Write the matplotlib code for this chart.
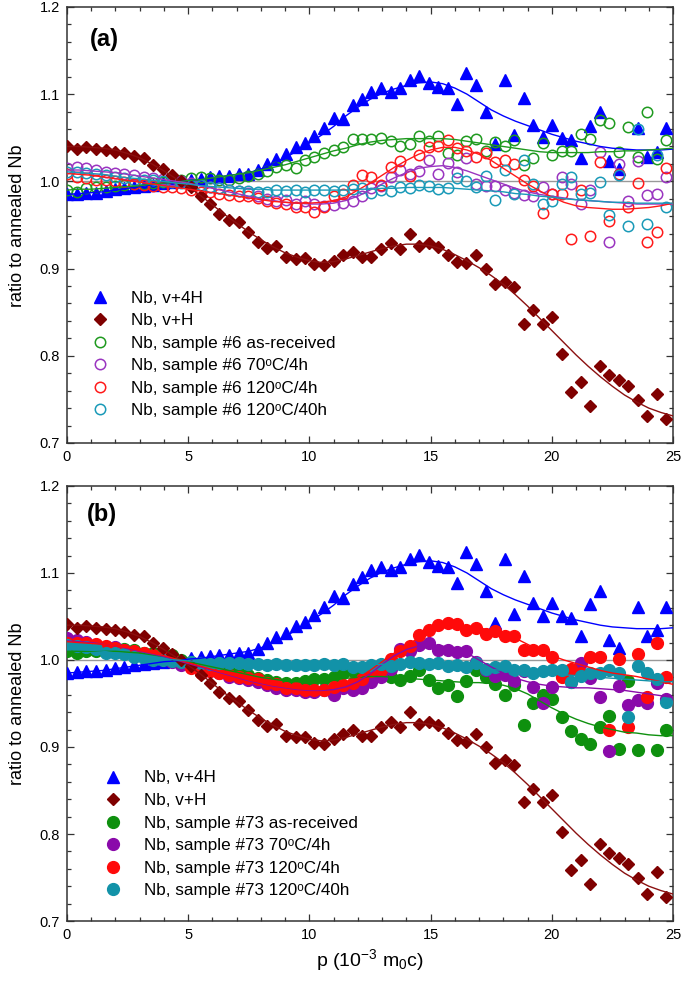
import numpy as np
import matplotlib
matplotlib.use('Agg')
import matplotlib.pyplot as plt
import matplotlib.ticker as ticker

plt.rcParams['font.family'] = ['Liberation Sans', 'DejaVu Sans']
plt.rcParams['mathtext.fontset'] = 'custom'
plt.rcParams['mathtext.rm'] = 'Liberation Sans'
plt.rcParams['mathtext.it'] = 'Liberation Sans:italic'

nan = np.nan

# momentum channels, 10^-3 m0c
p = [0.02, 0.41, 0.80, 1.20, 1.59, 1.98, 2.37, 2.76, 3.16, 3.55,
     3.94, 4.33, 4.72, 5.12, 5.51, 5.90, 6.29, 6.68, 7.08, 7.47,
     7.86, 8.25, 8.64, 9.04, 9.43, 9.82, 10.21, 10.60, 11.00, 11.39,
     11.78, 12.17, 12.56, 12.96, 13.35, 13.74, 14.13, 14.52, 14.92, 15.31,
     15.70, 16.09, 16.48, 16.88, 17.27, 17.66, 18.05, 18.44, 18.84, 19.23,
     19.62, 20.01, 20.40, 20.80, 21.19, 21.58, 21.97, 22.36, 22.76, 23.15,
     23.54, 23.93, 24.32, 24.72]

# reference samples (both panels)
v4h = [0.985, 0.986, 0.987, 0.987, 0.989, 0.991, 0.992, 0.994, 0.995, 0.996,
       0.998, 0.999, 1.000, 1.002, 1.003, 1.005, 1.006, 1.006, 1.008, 1.008,
       1.013, 1.020, 1.026, 1.031, 1.039, 1.044, 1.052, 1.061, 1.073, 1.071,
       1.087, 1.095, 1.103, 1.107, 1.103, 1.107, 1.116, 1.121, 1.113, 1.108,
       1.107, 1.089, 1.124, 1.110, 1.079, 1.043, 1.116, 1.053, 1.096, 1.065,
       1.051, 1.065, 1.050, 1.048, 1.027, 1.064, 1.079, 1.023, 1.014, nan,
       1.061, 1.028, 1.034, 1.061]
vh = [1.041, 1.037, 1.039, 1.037, 1.036, 1.034, 1.032, 1.029, 1.027, 1.019,
      1.014, 1.007, 1.000, 0.993, 0.983, 0.974, 0.963, 0.956, 0.953, 0.942,
      0.931, 0.924, 0.926, 0.913, 0.911, 0.912, 0.905, 0.904, 0.909, 0.915,
      0.919, 0.913, 0.913, 0.923, 0.929, 0.923, 0.940, 0.926, 0.929, 0.925,
      0.916, 0.908, 0.906, 0.915, 0.900, 0.882, 0.885, 0.879, 0.837, 0.852,
      0.837, 0.845, 0.802, 0.759, 0.770, 0.742, 0.788, 0.778, 0.772, 0.765,
      0.749, 0.731, 0.756, 0.728]

# sample #6
s6_asrec = [0.990, 0.988, 0.992, 0.994, 0.994, 0.995, 0.996, 0.997, 0.997, 0.998,
            0.999, 1.000, 1.002, 1.004, 1.005, 1.004, 1.002, 1.002, 1.004, 1.006,
            1.009, 1.012, 1.017, 1.019, 1.015, 1.025, 1.028, 1.032, 1.036, 1.039,
            1.049, 1.049, 1.049, 1.050, 1.046, 1.041, 1.043, 1.052, 1.046, 1.052,
            1.033, 1.030, 1.046, 1.049, 1.035, 1.045, 1.041, 1.048, 1.019, 1.027,
            1.044, 1.030, 1.035, 1.035, 1.054, 1.049, 1.070, 1.067, 1.034, 1.062,
            1.028, 1.079, 1.026, 1.048]
s6_70c4h = [1.015, 1.016, 1.015, 1.013, 1.011, 1.010, 1.008, 1.007, 1.005, 1.004,
            1.003, 1.001, 1.000, 0.998, 0.996, 0.994, 0.992, 0.990, 0.989, 0.987,
            0.983, 0.980, 0.978, 0.979, 0.974, 0.977, 0.974, 0.972, 0.973, 0.975,
            0.977, 0.983, 0.992, 0.995, 1.005, 1.013, 1.009, 1.012, 1.024, 1.009,
            1.021, 1.011, 1.027, 0.997, 0.995, 0.995, 0.990, 0.987, 0.984, 0.983,
            0.993, 0.986, 1.005, 0.997, 0.974, 0.990, 1.034, 0.930, 1.020, 0.977,
            1.023, 0.984, 0.985, 1.005]
s6_120c4h = [1.009, 1.005, 1.004, 1.002, 1.002, 1.000, 0.999, 0.997, 0.996, 0.995,
             0.994, 0.993, 0.992, 0.990, 0.988, 0.988, 0.986, 0.984, 0.983, 0.983,
             0.981, 0.978, 0.975, 0.974, 0.971, 0.971, 0.965, 0.971, 0.983, 0.986,
             0.996, 1.007, 1.005, 0.996, 1.017, 1.023, 1.006, 1.030, 1.039, 1.041,
             1.047, 1.038, 1.035, 1.028, 1.032, 1.022, 1.025, 1.020, 1.002, 0.995,
             0.964, 0.986, 0.985, 0.934, 0.990, 0.937, 1.022, 0.955, 1.009, 0.971,
             0.998, 0.931, 0.942, 1.015]
s6_120c40h = [1.011, 1.011, 1.010, 1.009, 1.007, 1.005, 1.004, 1.002, 1.002, 1.001,
              1.000, 0.999, 0.998, 0.996, 0.996, 0.994, 0.992, 0.990, 0.989, 0.989,
              0.988, 0.988, 0.990, 0.989, 0.990, 0.988, 0.990, 0.990, 0.989, 0.990,
              0.991, 0.992, 0.987, 0.990, 0.989, 0.993, 0.992, 0.996, 0.995, 0.991,
              0.992, 1.004, 1.000, 0.994, 1.006, 0.979, 1.013, 0.986, 1.025, 0.997,
              0.974, 0.978, 0.997, 1.005, 0.986, 0.987, 0.999, 0.961, 1.007, 0.949,
              1.060, 0.951, 1.030, 0.971]

# sample #73
s73_asrec = [1.010, 1.008, 1.010, 1.010, 1.011, 1.012, 1.013, 1.012, 1.008, 1.008,
             1.007, 1.006, 1.000, 0.998, 0.996, 0.993, 0.989, 0.987, 0.985, 0.983,
             0.979, 0.977, 0.975, 0.974, 0.974, 0.976, 0.978, 0.978, 0.981, 0.985,
             0.987, 0.985, 0.977, 0.984, 0.981, 0.977, 0.982, 0.988, 0.977, 0.968,
             0.971, 0.959, 0.976, 0.988, 0.981, 0.972, 0.960, 0.971, 0.925, 0.950,
             0.960, 0.955, 0.934, 0.918, 0.909, 0.904, 0.923, 0.936, 0.898, 0.976,
             0.897, nan, 0.897, 0.920]
s73_70c4h = [1.025, 1.023, 1.021, 1.017, 1.015, 1.015, 1.012, 1.008, 1.006, 1.004,
             1.001, 0.998, 0.994, 0.992, 0.990, 0.987, 0.985, 0.981, 0.979, 0.977,
             0.975, 0.971, 0.968, 0.966, 0.966, 0.963, 0.963, 0.966, 0.960, 0.968,
             0.965, 0.968, 0.975, 0.980, 0.990, 1.013, 1.010, 1.017, 1.020, 1.012,
             1.012, 1.009, 1.010, 0.998, 0.989, 0.982, 0.983, 0.976, 0.987, 0.969,
             0.950, 0.969, 0.982, 0.975, 0.996, 0.979, 0.957, 0.895, 0.970, 0.948,
             0.954, 0.951, 0.974, 0.955]
s73_120c4h = [1.020, 1.020, 1.019, 1.018, 1.016, 1.014, 1.012, 1.010, 1.008, 1.006,
              1.004, 1.002, 0.998, 0.991, 0.985, 0.987, 0.985, 0.983, 0.981, 0.979,
              0.978, 0.973, 0.972, 0.968, 0.968, 0.966, 0.966, 0.966, 0.969, 0.971,
              0.973, 0.978, 0.987, 0.989, 1.001, 1.010, 1.016, 1.029, 1.034, 1.040,
              1.043, 1.041, 1.034, 1.037, 1.030, 1.033, 1.028, 1.028, 1.012, 1.012,
              1.011, 1.004, 0.980, 0.990, 0.985, 1.004, 1.004, 0.920, 1.001, 0.923,
              1.007, 0.958, 1.020, 0.980]
s73_120c40h = [1.017, 1.016, 1.015, 1.013, 1.008, 1.008, 1.007, 1.004, 1.002, 1.000,
               1.000, 0.999, 0.998, 0.998, 0.996, 0.995, 0.997, 0.997, 0.996, 0.995,
               0.995, 0.994, 0.995, 0.994, 0.994, 0.994, 0.994, 0.995, 0.994, 0.995,
               0.992, 0.992, 0.994, 0.995, 0.993, 0.995, 0.998, 0.996, 0.995, 0.996,
               0.993, 0.994, 0.992, 0.997, 0.990, 0.992, 0.993, 0.989, 0.989, 0.985,
               0.987, 0.989, 0.989, 0.975, 0.982, 0.985, 0.985, 0.988, 0.985, 0.935,
               0.993, 0.985, 0.978, 0.952]

# fitted curves, sampled every 0.5 from 0 to 25
p_fit = np.linspace(0, 25, 51)
v4h_fit = [0.985, 0.986, 0.987, 0.988, 0.990, 0.992, 0.994, 0.996, 0.998, 0.999,
           1.001, 1.002, 1.004, 1.006, 1.008, 1.010, 1.014, 1.020, 1.027, 1.035,
           1.044, 1.053, 1.063, 1.075, 1.085, 1.094, 1.101, 1.106, 1.110, 1.113,
           1.114, 1.112, 1.107, 1.100, 1.091, 1.082, 1.075, 1.069, 1.064, 1.059,
           1.054, 1.050, 1.046, 1.043, 1.040, 1.038, 1.037, 1.036, 1.036, 1.036,
           1.037]
vh_fit = [1.040, 1.040, 1.039, 1.038, 1.036, 1.032, 1.027, 1.020, 1.012, 1.003,
          0.994, 0.984, 0.973, 0.962, 0.952, 0.942, 0.933, 0.925, 0.918, 0.913,
          0.909, 0.907, 0.908, 0.911, 0.915, 0.919, 0.923, 0.926, 0.928, 0.928,
          0.926, 0.922, 0.916, 0.909, 0.901, 0.892, 0.882, 0.870, 0.857, 0.843,
          0.829, 0.815, 0.801, 0.788, 0.776, 0.765, 0.755, 0.747, 0.740, 0.735,
          0.731]
s6_asrec_fit = [0.990, 0.991, 0.991, 0.992, 0.993, 0.994, 0.995, 0.997, 0.998, 0.999,
                1.001, 1.002, 1.004, 1.006, 1.008, 1.010, 1.013, 1.016, 1.019, 1.023,
                1.027, 1.031, 1.035, 1.038, 1.042, 1.045, 1.047, 1.048, 1.049, 1.049,
                1.049, 1.049, 1.048, 1.046, 1.044, 1.042, 1.040, 1.038, 1.036, 1.034,
                1.033, 1.033, 1.033, 1.033, 1.034, 1.034, 1.035, 1.035, 1.036, 1.037,
                1.038]
s6_70c4h_fit = [1.013, 1.013, 1.012, 1.011, 1.010, 1.008, 1.006, 1.004, 1.002, 1.000,
                0.998, 0.995, 0.992, 0.989, 0.986, 0.983, 0.980, 0.978, 0.976, 0.975,
                0.974, 0.974, 0.975, 0.978, 0.983, 0.990, 0.997, 1.004, 1.010, 1.015,
                1.017, 1.018, 1.016, 1.012, 1.007, 1.002, 0.997, 0.992, 0.988, 0.985,
                0.983, 0.981, 0.979, 0.978, 0.977, 0.976, 0.975, 0.974, 0.974, 0.974,
                0.974]
s6_120c4h_fit = [1.009, 1.008, 1.007, 1.005, 1.003, 1.001, 0.999, 0.997, 0.995, 0.993,
                 0.991, 0.989, 0.987, 0.985, 0.983, 0.981, 0.979, 0.977, 0.976, 0.975,
                 0.975, 0.976, 0.978, 0.982, 0.990, 0.998, 1.007, 1.016, 1.024, 1.031,
                 1.036, 1.039, 1.039, 1.036, 1.031, 1.024, 1.015, 1.006, 0.997, 0.989,
                 0.982, 0.976, 0.972, 0.970, 0.969, 0.968, 0.968, 0.969, 0.970, 0.972,
                 0.975]
s6_120c40h_fit = [1.011, 1.010, 1.009, 1.008, 1.006, 1.004, 1.003, 1.001, 1.000, 0.998,
                  0.997, 0.995, 0.994, 0.993, 0.992, 0.991, 0.991, 0.990, 0.990, 0.990,
                  0.990, 0.990, 0.990, 0.990, 0.991, 0.991, 0.992, 0.992, 0.993, 0.993,
                  0.993, 0.993, 0.992, 0.991, 0.990, 0.989, 0.988, 0.986, 0.985, 0.983,
                  0.982, 0.980, 0.979, 0.978, 0.977, 0.976, 0.976, 0.975, 0.975, 0.975,
                  0.975]
s73_asrec_fit = [1.010, 1.010, 1.010, 1.010, 1.010, 1.009, 1.008, 1.006, 1.004, 1.001,
                 0.998, 0.995, 0.992, 0.989, 0.986, 0.983, 0.980, 0.978, 0.976, 0.975,
                 0.975, 0.976, 0.977, 0.979, 0.980, 0.981, 0.981, 0.980, 0.979, 0.978,
                 0.977, 0.976, 0.975, 0.974, 0.974, 0.973, 0.971, 0.967, 0.961, 0.953,
                 0.945, 0.938, 0.932, 0.927, 0.923, 0.920, 0.917, 0.916, 0.914, 0.913,
                 0.913]
s73_70c4h_fit = [1.022, 1.021, 1.020, 1.018, 1.016, 1.013, 1.010, 1.007, 1.004, 1.000,
                 0.996, 0.992, 0.988, 0.984, 0.980, 0.976, 0.973, 0.970, 0.968, 0.966,
                 0.965, 0.965, 0.966, 0.969, 0.975, 0.984, 0.995, 1.005, 1.012, 1.016,
                 1.017, 1.016, 1.013, 1.008, 1.000, 0.992, 0.985, 0.979, 0.975, 0.972,
                 0.970, 0.969, 0.968, 0.968, 0.967, 0.966, 0.965, 0.963, 0.961, 0.959,
                 0.957]
s73_120c4h_fit = [1.021, 1.020, 1.019, 1.018, 1.016, 1.014, 1.011, 1.008, 1.005, 1.001,
                  0.997, 0.993, 0.989, 0.985, 0.981, 0.977, 0.974, 0.971, 0.969, 0.967,
                  0.966, 0.966, 0.968, 0.972, 0.979, 0.988, 0.998, 1.008, 1.017, 1.025,
                  1.032, 1.037, 1.039, 1.039, 1.037, 1.034, 1.030, 1.025, 1.018, 1.011,
                  1.005, 1.000, 0.996, 0.992, 0.988, 0.985, 0.983, 0.981, 0.978, 0.975,
                  0.972]
s73_120c40h_fit = [1.013, 1.012, 1.011, 1.010, 1.008, 1.007, 1.005, 1.003, 1.001, 1.000,
                   0.999, 0.998, 0.997, 0.996, 0.996, 0.995, 0.995, 0.995, 0.995, 0.995,
                   0.995, 0.995, 0.995, 0.995, 0.995, 0.995, 0.995, 0.995, 0.995, 0.995,
                   0.994, 0.994, 0.993, 0.992, 0.991, 0.989, 0.988, 0.987, 0.986, 0.985,
                   0.984, 0.983, 0.982, 0.981, 0.980, 0.979, 0.978, 0.977, 0.976, 0.975,
                   0.975]

deg = '\u1d52'  # superscript o
labels_a = ['Nb, v+4H', 'Nb, v+H', 'Nb, sample #6 as-received',
            'Nb, sample #6 70' + deg + 'C/4h', 'Nb, sample #6 120' + deg + 'C/4h',
            'Nb, sample #6 120' + deg + 'C/40h']
labels_b = ['Nb, v+4H', 'Nb, v+H', 'Nb, sample #73 as-received',
            'Nb, sample #73 70' + deg + 'C/4h', 'Nb, sample #73 120' + deg + 'C/4h',
            'Nb, sample #73 120' + deg + 'C/40h']

blue = '#0000ff'
dred = '#7f0000'
colors_a = ['#1f9a1f', '#9a35c0', '#ff1a1a', '#1a9ab8']
colors_b = ['#0e900e', '#8a0aaa', '#ff0a0a', '#1292a8']


def draw_panel(ax, series, fits, colors, labels, filled, letter, pos):
    ax.axhline(1.0, color='#999999', lw=1.0, zorder=1)
    handles = []
    h = ax.plot(p, v4h, ls='none', marker='^', ms=8, color=blue, mec=blue, zorder=3)[0]
    handles.append(h)
    circ = []
    for y, c in zip(series, colors):
        if filled:
            h = ax.plot(p, y, ls='none', marker='o', ms=8.5, color=c, mec=c, zorder=3)[0]
        else:
            h = ax.plot(p, y, ls='none', marker='o', ms=7.5, mfc='none', mec=c,
                        mew=1.1, zorder=3)[0]
        circ.append(h)
    h = ax.plot(p, vh, ls='none', marker='D', ms=6.5, color=dred, mec=dred, zorder=4)[0]
    handles.append(h)
    handles += circ

    ax.plot(p_fit, v4h_fit, color=blue, lw=1.0, zorder=5)
    ax.plot(p_fit, vh_fit, color='#8b1010', lw=1.0, zorder=5)
    for y, c in zip(fits, colors):
        ax.plot(p_fit, y, color=c, lw=1.0, zorder=5)

    ax.set_xlim(0, 25)
    ax.set_ylim(0.7, 1.2)
    ax.xaxis.set_major_locator(ticker.MultipleLocator(5))
    ax.xaxis.set_minor_locator(ticker.MultipleLocator(1))
    ax.yaxis.set_major_locator(ticker.MultipleLocator(0.1))
    ax.yaxis.set_minor_locator(ticker.MultipleLocator(0.02))
    ax.yaxis.set_major_formatter(ticker.FormatStrFormatter('%.1f'))
    ax.tick_params(which='both', direction='in', top=True, right=True,
                   labelsize=10.5, color='#333333', width=0.9)
    ax.tick_params(which='major', length=5, pad=5)
    ax.tick_params(which='minor', length=3)
    for s in ax.spines.values():
        s.set_color('#333333')
        s.set_linewidth(1.1)

    ax.text(pos[2], pos[3], letter, transform=ax.transAxes, fontsize=17,
            fontweight='bold', va='center', ha='left')

    ax.legend(handles, labels, loc='upper left', bbox_to_anchor=(pos[0], pos[1]),
              frameon=False, fontsize=12.3, numpoints=1, handlelength=2.0,
              handletextpad=0.8, labelspacing=0.44, borderpad=0, borderaxespad=0)


fig = plt.figure(figsize=(6.85, 9.93), dpi=100)
ax_a = fig.add_axes([0.0978, 0.5539, 0.8847, 0.4391])
ax_b = fig.add_axes([0.0978, 0.0725, 0.8847, 0.4381])

draw_panel(ax_a, [s6_asrec, s6_70c4h, s6_120c4h, s6_120c40h],
           [s6_asrec_fit, s6_70c4h_fit, s6_120c4h_fit, s6_120c40h_fit],
           colors_a, labels_a, False, '(a)', (0.026, 0.349, 0.038, 0.926))
draw_panel(ax_b, [s73_asrec, s73_70c4h, s73_120c4h, s73_120c40h],
           [s73_asrec_fit, s73_70c4h_fit, s73_120c4h_fit, s73_120c40h_fit],
           colors_b, labels_b, True, '(b)', (0.048, 0.346, 0.032, 0.935))

fig.text(0.026, 0.773, 'ratio to annealed Nb', rotation=90, fontsize=13,
         ha='center', va='center')
fig.text(0.026, 0.2915, 'ratio to annealed Nb', rotation=90, fontsize=13,
         ha='center', va='center')
fig.text(0.54, 0.033, r'p (10$^{-3}$ m$_{0}$c)', fontsize=14, ha='center', va='center')

fig.savefig('out.png', dpi=100)
